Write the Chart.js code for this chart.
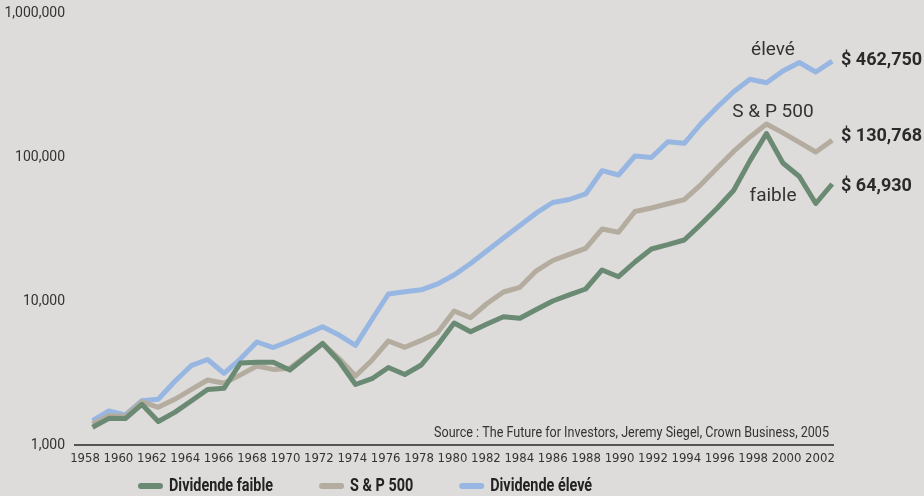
<!DOCTYPE html>
<html>
<head>
<meta charset="utf-8">
<script src="https://cdn.jsdelivr.net/npm/chart.js@4.4.1/dist/chart.umd.min.js"></script>
<style>
    html, body { margin: 0; padding: 0; background: #dddcda; }
    #wrap { width: 924px; height: 496px; }
</style>
</head>
<body>
<div id="wrap"><canvas id="chart" width="924" height="496"></canvas></div>
<script>
// year-end value of $1,000 invested end of 1957
let years = [1958, 1959, 1960, 1961, 1962, 1963, 1964, 1965, 1966, 1967,
    1968, 1969, 1970, 1971, 1972, 1973, 1974, 1975, 1976, 1977,
    1978, 1979, 1980, 1981, 1982, 1983, 1984, 1985, 1986, 1987,
    1988, 1989, 1990, 1991, 1992, 1993, 1994, 1995, 1996, 1997,
    1998, 1999, 2000, 2001, 2002, 2003];

let lowDiv = [1327, 1532, 1525, 1917, 1456, 1684, 2021, 2429, 2476, 3711,
    3752, 3752, 3318, 4105, 5069, 3813, 2631, 2887, 3453, 3088,
    3594, 4948, 7034, 6120, 6922, 7780, 7585, 8730, 10000, 11040,
    12115, 16420, 14750, 18660, 22970, 24600, 26520, 33990, 44040, 58530,
    94400, 145600, 90850, 73200, 47550, 64930];

let sp500 = [1400, 1600, 1580, 2000, 1827, 2077, 2421, 2828, 2682, 3068,
    3537, 3350, 3409, 4164, 5069, 3989, 3013, 3881, 5275, 4770,
    5326, 6044, 8522, 7656, 9608, 11550, 12450, 16210, 19110, 21100,
    23230, 31620, 30000, 41830, 44240, 47320, 50600, 64120, 83740, 109200,
    137700, 169500, 147000, 126300, 108300, 130768];

let highDiv = [1475, 1722, 1616, 2030, 2080, 2761, 3554, 3925, 3148, 3969,
    5191, 4753, 5275, 5908, 6628, 5797, 4924, 7437, 11183, 11586,
    11963, 13146, 15155, 18212, 22320, 27345, 33440, 40900, 48310, 50680,
    55350, 80330, 74990, 101600, 99200, 127700, 124500, 169500, 221400, 284100,
    346400, 328100, 395600, 453300, 389400, 462750];

let seriesNames = ['Dividende faible', 'S & P 500', 'Dividende élevé'];
let seriesColors = ['#6b8a74', '#b4ac9f', '#97b6e2'];
let tagLabels = ['faible', 'S & P 500', 'élevé'];
let endLabels = ['$ 64,930', '$ 130,768', '$ 462,750'];
let yTicks = [1000, 10000, 100000, 1000000];
let sourceText = 'Source : The Future for Investors, Jeremy Siegel, Crown Business, 2005';

let narrow = "'Liberation Sans Narrow', 'DejaVu Sans Condensed', Roboto, sans-serif";

function points(values) {
    return years.map((yr, i) => ({ x: yr, y: values[i] }));
}

let extras = {
    id: 'extras',
    afterDraw(chart) {
        let ctx = chart.ctx;
        let area = chart.chartArea;
        ctx.save();
        ctx.fillStyle = '#333';

        // source line, condensed
        ctx.font = '15px Roboto';
        let sw = ctx.measureText(sourceText).width;
        ctx.save();
        ctx.translate(829, 437);
        ctx.scale(395 / sw, 1);
        ctx.textAlign = 'right';
        ctx.textBaseline = 'alphabetic';
        ctx.fillText(sourceText, 0, 0);
        ctx.restore();

        // series tags
        ctx.font = '19px Roboto';
        ctx.textAlign = 'center';
        ctx.fillText(tagLabels[2], 773, 55);
        ctx.fillText(tagLabels[1], 773, 117);
        ctx.fillText(tagLabels[0], 773, 201);

        // end values
        ctx.font = 'bold 18px Roboto';
        ctx.textAlign = 'left';
        ctx.fillStyle = '#2a2a2a';
        ctx.fillText(endLabels[2], area.right + 8, 65);
        ctx.fillText(endLabels[1], area.right + 8, 141);
        ctx.fillText(endLabels[0], area.right + 8, 191);

        // legend
        ctx.font = 'bold 18px Roboto';
        ctx.textBaseline = 'middle';
        let x = 138;
        chart.data.datasets.forEach(ds => {
            ctx.fillStyle = ds.borderColor;
            ctx.beginPath();
            ctx.roundRect(x, 483, 25, 6, 3);
            ctx.fill();
            let tw = ctx.measureText(ds.label).width * 0.8;
            ctx.save();
            ctx.translate(x + 31, 486);
            ctx.scale(0.8, 1);
            ctx.fillStyle = '#222';
            ctx.fillText(ds.label, 0, 0);
            ctx.restore();
            x = x + 31 + tw + 46;
        });
        ctx.restore();
    }
};

let ctx = document.getElementById('chart').getContext('2d');

let chart = new Chart(ctx, {
    type: 'line',
    data: {
        datasets: [0, 1, 2].map(i => ({
            label: seriesNames[i],
            data: points([lowDiv, sp500, highDiv][i]),
            borderColor: seriesColors[i],
            backgroundColor: seriesColors[i],
            borderWidth: 5,
            pointRadius: 0,
            tension: 0,
            fill: false,
            borderJoinStyle: 'round',
            xAxisID: 'xd',
            clip: false
        }))
    },
    options: {
        responsive: false,
        animation: false,
        devicePixelRatio: 1,
        layout: { padding: { top: 13, right: 91, bottom: 29, left: 0 } },
        plugins: {
            legend: { display: false },
            tooltip: { enabled: false }
        },
        scales: {
            x: {
                type: 'linear',
                position: 'bottom',
                min: 1957.4,
                max: 2002.78,
                afterFit(s) { s.height = 22; },
                grid: { display: false, drawTicks: false },
                border: { color: '#555', width: 2 },
                ticks: {
                    stepSize: 2,
                    includeBounds: false,
                    autoSkip: false,
                    maxRotation: 0,
                    padding: 6,
                    color: '#333',
                    font: { family: narrow, size: 13 },
                    callback: v => String(v)
                }
            },
            xd: {
                type: 'linear',
                display: false,
                min: 1956.935,
                max: 2003.048
            },
            y: {
                type: 'logarithmic',
                min: 1000,
                max: 1000000,
                afterFit(s) {
                    s.width = 75;
                    s.paddingTop = 0;
                    s.paddingBottom = 0;
                },
                afterBuildTicks(s) { s.ticks = yTicks.map(v => ({ value: v })); },
                grid: { display: false, drawTicks: false },
                border: { display: false },
                ticks: {
                    padding: 10,
                    color: '#333',
                    font: { family: 'Roboto', size: 14 },
                    callback: v => Number(v).toLocaleString('en-US')
                }
            }
        }
    },
    plugins: [extras]
});
</script>
</body>
</html>
